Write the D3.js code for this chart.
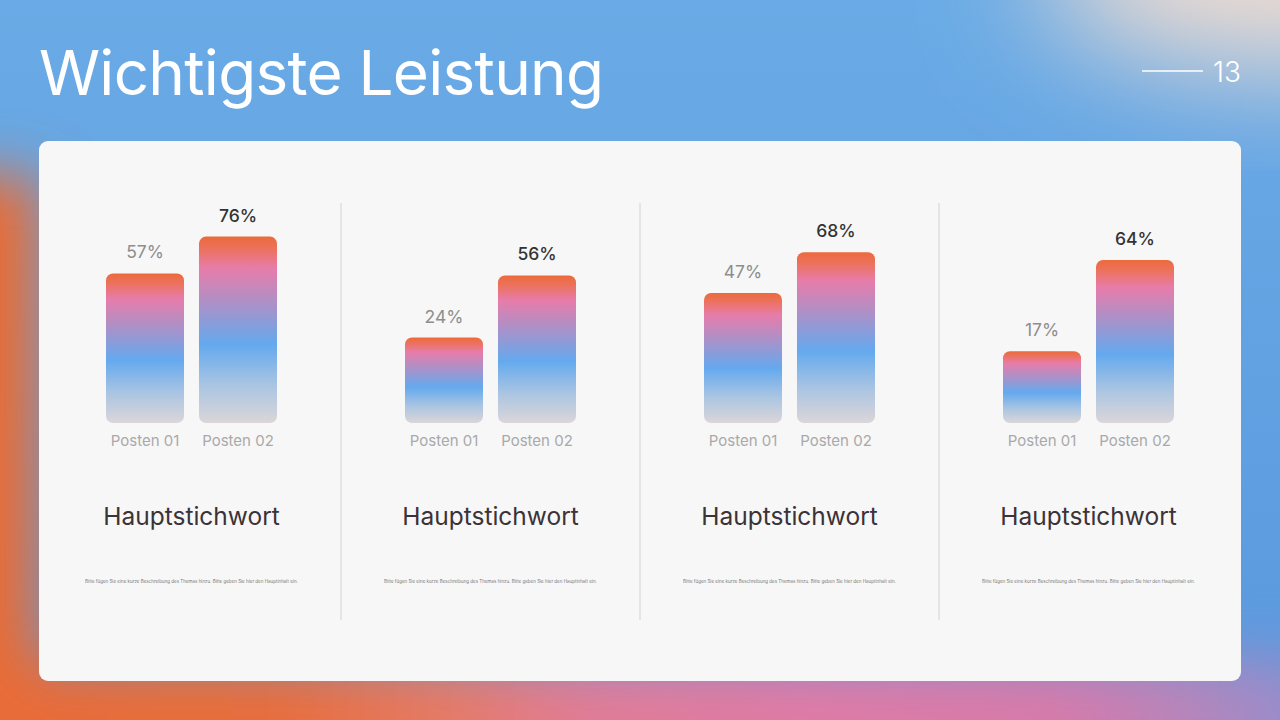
<!DOCTYPE html>
<html>
<head>
<meta charset="utf-8">
<script src="https://cdn.jsdelivr.net/npm/d3@7"></script>
<style>
  html, body { margin: 0; padding: 0; background: #64a3e3; }
  svg { display: block; font-family: Inter, "Noto Sans", sans-serif; }
</style>
</head>
<body>
<svg id="chart"></svg>
<script>
// chart data
const categories = ["Posten 01", "Posten 02"];
const groups = ["Hauptstichwort", "Hauptstichwort", "Hauptstichwort", "Hauptstichwort"];
const series1 = [57, 24, 47, 17];
const series2 = [76, 56, 68, 64];
const title = "Wichtigste Leistung";
const pageNo = "13";
const desc = "Bitte fügen Sie eine kurze Beschreibung des Themas hinzu. Bitte geben Sie hier den Hauptinhalt ein.";

const W = 1280, H = 720;
const svg = d3.select("#chart").attr("width", W).attr("height", H);
const defs = svg.append("defs");

// background blurs
const addBlur = (id, s) => defs.append("filter").attr("id", id)
  .attr("x", "-50%").attr("y", "-50%").attr("width", "200%").attr("height", "200%")
  .append("feGaussianBlur").attr("stdDeviation", s);
addBlur("blur", 60);
addBlur("blurS", 28);

const bgGrad = defs.append("linearGradient").attr("id", "bgGrad")
  .attr("x1", 0).attr("y1", 0).attr("x2", 0).attr("y2", 1);
bgGrad.append("stop").attr("offset", 0).attr("stop-color", "#6aabe6");
bgGrad.append("stop").attr("offset", 1).attr("stop-color", "#5a98de");

const bottomGrad = defs.append("linearGradient").attr("id", "bottomGrad");
[[0, "#e96c36"], [0.24, "#e96d3a"], [0.36, "#e77a64"], [0.46, "#e27b96"], [0.62, "#e07aa6"],
 [0.8, "#d77aaa"], [0.9, "#b486bc"], [1, "#8a90d2"]].forEach(([o, c]) =>
  bottomGrad.append("stop").attr("offset", o).attr("stop-color", c));

// bar gradient, top to bottom
const barGrad = defs.append("linearGradient").attr("id", "barGrad")
  .attr("x1", 0).attr("y1", 0).attr("x2", 0).attr("y2", 1);
[[0, "#ec6a3a"], [0.07, "#ec7260"], [0.17, "#e77caa"], [0.36, "#ab91c8"], [0.58, "#64a9ee"],
 [0.8, "#aac5e2"], [1, "#dbd6d8"]].forEach(([o, c]) =>
  barGrad.append("stop").attr("offset", o).attr("stop-color", c));

// background
const bg = svg.append("g");
bg.append("rect").attr("width", W).attr("height", H).attr("fill", "url(#bgGrad)");
const blobs = bg.append("g").attr("filter", "url(#blur)");
blobs.append("ellipse").attr("cx", 1300).attr("cy", -30).attr("rx", 260).attr("ry", 100).attr("fill", "#f2ddd0");
const blobsS = bg.append("g").attr("filter", "url(#blurS)");
blobsS.append("rect").attr("x", -120).attr("y", 175).attr("width", 160).attr("height", 640).attr("fill", "#e96c36");
blobsS.append("rect").attr("x", -60).attr("y", 660).attr("width", W + 120).attr("height", 120).attr("fill", "url(#bottomGrad)");

// title and page number
const titleText = svg.append("text").attr("x", 39).attr("y", 95)
  .attr("fill", "#fff").attr("font-size", 62).attr("font-weight", 400)
  .text(title);
const tw = titleText.node().getComputedTextLength();
titleText.attr("letter-spacing", (565 - tw) / (title.length - 1));

svg.append("line").attr("x1", 1142).attr("x2", 1203).attr("y1", 71).attr("y2", 71)
  .attr("stroke", "#fff").attr("stroke-width", 1.5);
svg.append("text").attr("x", 1241).attr("y", 82).attr("text-anchor", "end")
  .attr("fill", "#fff").attr("font-size", 28).attr("font-weight", 300).text(pageNo);

// card
svg.append("rect").attr("x", 39).attr("y", 141).attr("width", 1202).attr("height", 540)
  .attr("rx", 9).attr("fill", "#f7f7f8");

// scales
const baseY = 423;
const x = d3.scaleBand().domain(d3.range(groups.length)).range([42, 1238]);
const xi = d3.scaleBand().domain(categories).range([-85.5, 85.5]).paddingInner(0.161);
const y = d3.scaleLinear().domain([-20, 100]).range([baseY, 190]);

// dividers
svg.append("g").selectAll("line").data(d3.range(1, groups.length)).join("line")
  .attr("x1", d => x(d)).attr("x2", d => x(d))
  .attr("y1", 203).attr("y2", 620)
  .attr("stroke", "#d2d2d4").attr("stroke-width", 1);

const panels = svg.append("g").selectAll("g").data(groups).join("g")
  .attr("transform", (d, i) => `translate(${x(i) + x.bandwidth() / 2},0)`);

panels.each(function (g, i) {
  const p = d3.select(this);
  const vals = [series1[i], series2[i]];
  const bars = categories.map((c, k) => ({ c, v: vals[k], k }));

  p.selectAll("rect.bar").data(bars).join("rect").attr("class", "bar")
    .attr("x", d => xi(d.c)).attr("width", xi.bandwidth())
    .attr("y", d => y(d.v)).attr("height", d => baseY - y(d.v))
    .attr("rx", 7).attr("fill", "url(#barGrad)");

  p.selectAll("text.val").data(bars).join("text").attr("class", "val")
    .attr("x", d => xi(d.c) + xi.bandwidth() / 2)
    .attr("y", d => y(d.v) - 15)
    .attr("text-anchor", "middle").attr("font-size", 17.5)
    .attr("font-weight", d => d.k === 1 ? 500 : 400)
    .attr("fill", d => d.k === 1 ? "#333" : "#8e8e8e")
    .text(d => d.v + "%");

  p.selectAll("text.cat").data(bars).join("text").attr("class", "cat")
    .attr("x", d => xi(d.c) + xi.bandwidth() / 2)
    .attr("y", 446)
    .attr("text-anchor", "middle").attr("font-size", 15)
    .attr("fill", "#a9a9a9")
    .text(d => d.c);

  p.append("text").attr("x", 0).attr("y", 525).attr("text-anchor", "middle")
    .attr("font-size", 24.5).attr("fill", "#3b3337").text(g);

  p.append("text").attr("x", 0).attr("y", 583).attr("text-anchor", "middle")
    .attr("font-size", 4.5).attr("fill", "#777").text(desc);
});
</script>
</body>
</html>
